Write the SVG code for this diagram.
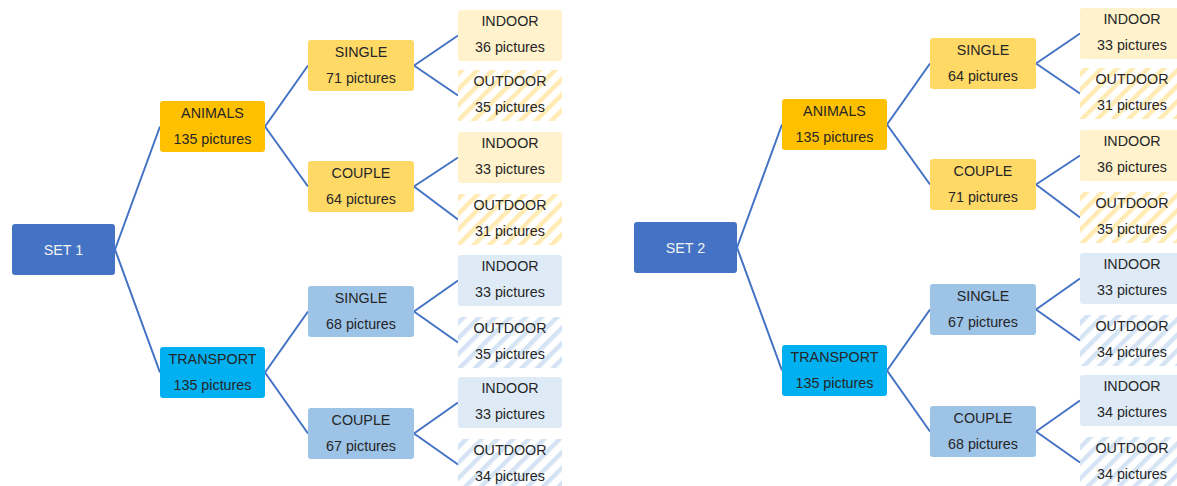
<svg xmlns="http://www.w3.org/2000/svg" width="1177" height="486" viewBox="0 0 1177 486">
  <defs>
    <pattern id="hatch-gold" patternUnits="userSpaceOnUse" width="11" height="11" patternTransform="rotate(45)">
      <rect width="11" height="11" fill="#ffffff"/>
      <rect width="4.5" height="11" fill="#ffebb3"/>
    </pattern>
    <pattern id="hatch-blue" patternUnits="userSpaceOnUse" width="11" height="11" patternTransform="rotate(45)">
      <rect width="11" height="11" fill="#ffffff"/>
      <rect width="4.5" height="11" fill="#d5e4f4"/>
    </pattern>
    <style>
      text { font-family: "Liberation Sans", Arial, sans-serif; font-size: 14.3px; fill: #262626; text-anchor: middle; }
      .root rect { fill: #4472c4; }
      .root text { fill: #f2f2f2; }
      .animals rect { fill: #ffc000; }
      .transport rect { fill: #00b0f0; }
      .a-mid rect { fill: #ffd966; }
      .t-mid rect { fill: #9dc3e6; }
      .a-in rect { fill: #fff2cc; }
      .t-in rect { fill: #deebf7; }
      .a-out rect { fill: url(#hatch-gold); }
      .t-out rect { fill: url(#hatch-blue); }
      .links path { fill: none; stroke: #4472c4; stroke-width: 2; }
    </style>
  </defs>
  <rect width="1177" height="486" fill="#ffffff"/>

  <!-- connectors -->
  <g class="links">
    <!-- set 1 -->
    <path d="M115 249.5 L160 126.5 M115 249.5 L160 372.5"/>
    <path d="M265 126.5 L308 65.5 M265 126.5 L308 186.5"/>
    <path d="M265 372.5 L308 311.5 M265 372.5 L308 433.5"/>
    <path d="M414 65.5 L458 35.5 M414 65.5 L458 95.5"/>
    <path d="M414 186.5 L458 157.5 M414 186.5 L458 219.5"/>
    <path d="M414 311.5 L458 280.5 M414 311.5 L458 342.5"/>
    <path d="M414 433.5 L458 402.5 M414 433.5 L458 464.5"/>
    <!-- set 2 -->
    <g transform="translate(622,-2)">
      <path d="M115 249.5 L160 126.5 M115 249.5 L160 372.5"/>
      <path d="M265 126.5 L308 65.5 M265 126.5 L308 186.5"/>
      <path d="M265 372.5 L308 311.5 M265 372.5 L308 433.5"/>
      <path d="M414 65.5 L458 35.5 M414 65.5 L458 95.5"/>
      <path d="M414 186.5 L458 157.5 M414 186.5 L458 219.5"/>
      <path d="M414 311.5 L458 280.5 M414 311.5 L458 342.5"/>
      <path d="M414 433.5 L458 402.5 M414 433.5 L458 464.5"/>
    </g>
  </g>

  <!-- ===== SET 1 ===== -->
  <g id="set1" class="root"><rect x="12" y="224" width="103" height="51" rx="3"/><text x="63.5" y="254.5">SET 1</text></g>
  <g id="s1-animals" class="animals"><rect x="160" y="101" width="105" height="51" rx="3"/><text x="212.5" y="117.5">ANIMALS</text><text x="212.5" y="144">135 pictures</text></g>
  <g id="s1-transport" class="transport"><rect x="160" y="347" width="105" height="51" rx="3"/><text x="212.5" y="363.5">TRANSPORT</text><text x="212.5" y="390">135 pictures</text></g>

  <g id="s1-a-single" class="a-mid"><rect x="308" y="40" width="106" height="51" rx="3"/><text x="361" y="56.5">SINGLE</text><text x="361" y="83">71 pictures</text></g>
  <g id="s1-a-couple" class="a-mid"><rect x="308" y="161" width="106" height="51" rx="3"/><text x="361" y="177.5">COUPLE</text><text x="361" y="204">64 pictures</text></g>
  <g id="s1-t-single" class="t-mid"><rect x="308" y="286" width="106" height="51" rx="3"/><text x="361" y="302.5">SINGLE</text><text x="361" y="329">68 pictures</text></g>
  <g id="s1-t-couple" class="t-mid"><rect x="308" y="408" width="106" height="51" rx="3"/><text x="361" y="424.5">COUPLE</text><text x="361" y="451">67 pictures</text></g>

  <g id="s1-a-single-in" class="a-in"><rect x="458" y="10" width="104" height="51" rx="3"/><text x="510" y="25.5">INDOOR</text><text x="510" y="52">36 pictures</text></g>
  <g id="s1-a-single-out" class="a-out"><rect x="458" y="70" width="104" height="51"/><text x="510" y="85.5">OUTDOOR</text><text x="510" y="112">35 pictures</text></g>
  <g id="s1-a-couple-in" class="a-in"><rect x="458" y="132" width="104" height="51" rx="3"/><text x="510" y="147.5">INDOOR</text><text x="510" y="174">33 pictures</text></g>
  <g id="s1-a-couple-out" class="a-out"><rect x="458" y="194" width="104" height="51"/><text x="510" y="209.5">OUTDOOR</text><text x="510" y="236">31 pictures</text></g>
  <g id="s1-t-single-in" class="t-in"><rect x="458" y="255" width="104" height="51" rx="3"/><text x="510" y="270.5">INDOOR</text><text x="510" y="297">33 pictures</text></g>
  <g id="s1-t-single-out" class="t-out"><rect x="458" y="317" width="104" height="51"/><text x="510" y="332.5">OUTDOOR</text><text x="510" y="359">35 pictures</text></g>
  <g id="s1-t-couple-in" class="t-in"><rect x="458" y="377" width="104" height="51" rx="3"/><text x="510" y="392.5">INDOOR</text><text x="510" y="419">33 pictures</text></g>
  <g id="s1-t-couple-out" class="t-out"><rect x="458" y="439" width="104" height="51"/><text x="510" y="454.5">OUTDOOR</text><text x="510" y="481">34 pictures</text></g>

  <!-- ===== SET 2 ===== -->
  <g id="set2" class="root"><rect x="634" y="222" width="103" height="51" rx="3"/><text x="685.5" y="252.5">SET 2</text></g>
  <g id="s2-animals" class="animals"><rect x="782" y="99" width="105" height="51" rx="3"/><text x="834.5" y="115.5">ANIMALS</text><text x="834.5" y="142">135 pictures</text></g>
  <g id="s2-transport" class="transport"><rect x="782" y="345" width="105" height="51" rx="3"/><text x="834.5" y="361.5">TRANSPORT</text><text x="834.5" y="388">135 pictures</text></g>

  <g id="s2-a-single" class="a-mid"><rect x="930" y="38" width="106" height="51" rx="3"/><text x="983" y="54.5">SINGLE</text><text x="983" y="81">64 pictures</text></g>
  <g id="s2-a-couple" class="a-mid"><rect x="930" y="159" width="106" height="51" rx="3"/><text x="983" y="175.5">COUPLE</text><text x="983" y="202">71 pictures</text></g>
  <g id="s2-t-single" class="t-mid"><rect x="930" y="284" width="106" height="51" rx="3"/><text x="983" y="300.5">SINGLE</text><text x="983" y="327">67 pictures</text></g>
  <g id="s2-t-couple" class="t-mid"><rect x="930" y="406" width="106" height="51" rx="3"/><text x="983" y="422.5">COUPLE</text><text x="983" y="449">68 pictures</text></g>

  <g id="s2-a-single-in" class="a-in"><rect x="1080" y="8" width="104" height="51" rx="3"/><text x="1132" y="23.5">INDOOR</text><text x="1132" y="50">33 pictures</text></g>
  <g id="s2-a-single-out" class="a-out"><rect x="1080" y="68" width="104" height="51"/><text x="1132" y="83.5">OUTDOOR</text><text x="1132" y="110">31 pictures</text></g>
  <g id="s2-a-couple-in" class="a-in"><rect x="1080" y="130" width="104" height="51" rx="3"/><text x="1132" y="145.5">INDOOR</text><text x="1132" y="172">36 pictures</text></g>
  <g id="s2-a-couple-out" class="a-out"><rect x="1080" y="192" width="104" height="51"/><text x="1132" y="207.5">OUTDOOR</text><text x="1132" y="234">35 pictures</text></g>
  <g id="s2-t-single-in" class="t-in"><rect x="1080" y="253" width="104" height="51" rx="3"/><text x="1132" y="268.5">INDOOR</text><text x="1132" y="295">33 pictures</text></g>
  <g id="s2-t-single-out" class="t-out"><rect x="1080" y="315" width="104" height="51"/><text x="1132" y="330.5">OUTDOOR</text><text x="1132" y="357">34 pictures</text></g>
  <g id="s2-t-couple-in" class="t-in"><rect x="1080" y="375" width="104" height="51" rx="3"/><text x="1132" y="390.5">INDOOR</text><text x="1132" y="417">34 pictures</text></g>
  <g id="s2-t-couple-out" class="t-out"><rect x="1080" y="437" width="104" height="51"/><text x="1132" y="452.5">OUTDOOR</text><text x="1132" y="479">34 pictures</text></g>
</svg>
